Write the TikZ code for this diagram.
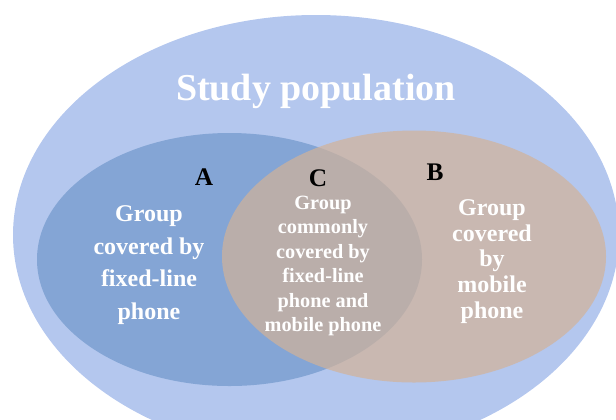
\documentclass[tikz,border=0pt]{standalone}
\usepackage{fontspec}
\setmainfont{Liberation Serif}

\definecolor{popcolor}{RGB}{180,199,238}
\definecolor{fixcolor}{RGB}{132,165,213}
\definecolor{mobcolor}{RGB}{210,178,152}

\tikzset{
  title/.style={text=white,font=\fontsize{28.5}{32}\selectfont\bfseries},
  letter/.style={text=black,font=\fontsize{19}{22}\selectfont\bfseries},
  groupA/.style={text=white,align=center,font=\fontsize{18}{24.5}\selectfont\bfseries},
  groupC/.style={text=white,align=center,font=\fontsize{15.2}{18.3}\selectfont\bfseries},
  groupB/.style={text=white,align=center,font=\fontsize{18}{19.4}\selectfont\bfseries}
}

\begin{document}
\begin{tikzpicture}[x=0.75pt,y=-0.75pt]
            \useasboundingbox (0,0) rectangle (616,419);

            % Elipses
            \begin{scope}
                \clip (0,0) rectangle (616,419);
                \fill[popcolor] (316,235) ellipse (303 and 220);
                \fill[fixcolor] (229.5,259.5) ellipse (192.5 and 126.5);
                \fill[mobcolor,opacity=0.7] (414,256.5) ellipse (192 and 126);
            \end{scope}

            % Titulo
            \node[title] (population) at (316,91) {Study population};

            % Letras
            \node[letter] (labelA) at (204,177) {A};
            \node[letter] (labelC) at (318,178) {C};
            \node[letter] (labelB) at (435,172) {B};

            % Textos de los grupos
            \node[groupA] (textA) at (149,265) {Group\\covered by\\fixed-line\\phone};
            \node[groupC] (textC) at (323,266) {Group\\commonly\\covered by\\fixed-line\\phone and\\mobile phone};
            \node[groupB] (textB) at (492,261.5) {Group\\covered\\by\\mobile\\phone};
\end{tikzpicture}
\end{document}
